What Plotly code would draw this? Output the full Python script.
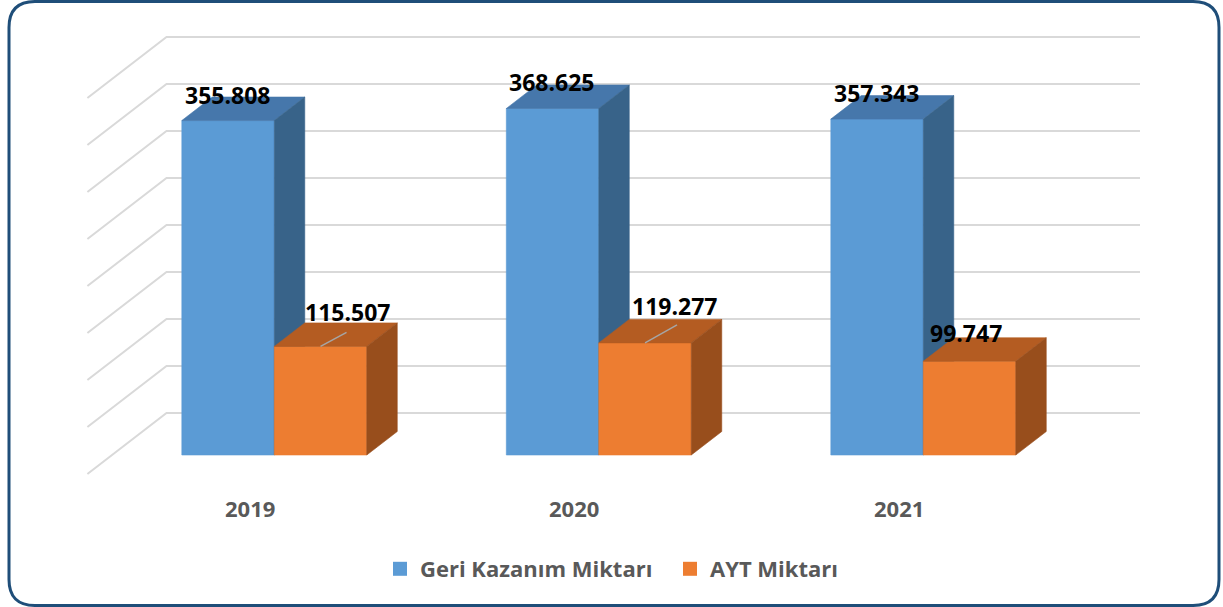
import plotly.graph_objects as go

# ---------------- data ----------------
categories = ["2019", "2020", "2021"]
series_names = ["Geri Kazanım Miktarı", "AYT Miktarı"]
geri_kazanim = [355.808, 368.625, 357.343]
ayt = [115.507, 119.277, 99.747]
value_labels_geri = ["355.808", "368.625", "357.343"]
value_labels_ayt = ["115.507", "119.277", "99.747"]
grid_values = [0, 50, 100, 150, 200, 250, 300, 350, 400]

# ---------------- styling / projection ----------------
FIG_W, FIG_H = 1223, 607
CAT_PX = 324.5      # pixels per category unit
VAL_PX = 0.94       # pixels per value unit
X0_PX = 274.3       # pixel x of category 0
Y0_PX = 455.0       # pixel y of value 0 (bar front plane)
SLANT = 1.297       # horizontal px per vertical px of depth
BAR_W = 0.285       # width of each bar (category units)
BAR_D = 23.5        # bar depth (vertical px)
WALL_BACK = 42.0    # back wall depth (vertical px)
WALL_FRONT = -19.0  # floor front edge depth
CAT_MIN, CAT_MAX = -0.5, 2.5

FONT = "Open Sans"
GRID_COL = "#D9D9D9"
TEXT_GRAY = "#595959"
colors = {
    0: dict(front="#5B9BD5", top="#4677AB", side="#386389"),
    1: dict(front="#ED7D31", top="#B45C22", side="#984E1C"),
}


def proj(x, v, z):
    return x + z * SLANT / CAT_PX, v + z / VAL_PX


fig = go.Figure()

# gridlines: back wall horizontals + left wall diagonals
gx, gy = [], []
for gv in grid_values:
    a = proj(CAT_MIN, gv, WALL_BACK)
    b = proj(CAT_MAX, gv, WALL_BACK)
    c = proj(CAT_MIN, gv, WALL_FRONT)
    gx += [c[0], a[0], b[0], None]
    gy += [c[1], a[1], b[1], None]
fig.add_trace(go.Scatter(x=gx, y=gy, mode="lines",
                         line=dict(color=GRID_COL, width=2),
                         hoverinfo="skip", showlegend=False))


def add_face(pts, color):
    xs = [p[0] for p in pts] + [pts[0][0]]
    ys = [p[1] for p in pts] + [pts[0][1]]
    fig.add_trace(go.Scatter(x=xs, y=ys, mode="lines", fill="toself",
                             fillcolor=color, line=dict(color=color, width=0.6),
                             hoverinfo="skip", showlegend=False))


for i, cat in enumerate(categories):
    for s, vals in enumerate([geri_kazanim, ayt]):
        v = vals[i]
        x0 = i - BAR_W if s == 0 else i
        x1 = i if s == 0 else i + BAR_W
        col = colors[s]
        add_face([proj(x0, 0, 0), proj(x1, 0, 0), proj(x1, v, 0), proj(x0, v, 0)], col["front"])
        add_face([proj(x0, v, 0), proj(x1, v, 0), proj(x1, v, BAR_D), proj(x0, v, BAR_D)], col["top"])
        add_face([proj(x1, 0, 0), proj(x1, 0, BAR_D), proj(x1, v, BAR_D), proj(x1, v, 0)], col["side"])

# leader lines for moved labels (2019, 2020 AYT)
leader_offsets = [(26, 14), (32, 18), None]
lx, ly = [], []
for i, off in enumerate(leader_offsets):
    if off is None:
        continue
    sx, sy = i + BAR_W / 2, ayt[i]
    lx += [sx, sx + off[0] / CAT_PX, None]
    ly += [sy, sy + off[1] / VAL_PX, None]
fig.add_trace(go.Scatter(x=lx, y=ly, mode="lines",
                         line=dict(color="#A6A6A6", width=1.5),
                         hoverinfo="skip", showlegend=False))

# legend entries
for s, name in enumerate(series_names):
    fig.add_trace(go.Scatter(x=[None], y=[None], mode="markers", name=name,
                             marker=dict(symbol="square", size=14,
                                         color=colors[s]["front"], line=dict(width=0))))

annotations = []
label_font = dict(family=FONT, size=23, color="#000000", weight="bold")
for i in range(len(categories)):
    annotations.append(dict(x=i - BAR_W, y=geri_kazanim[i], xref="x", yref="y",
                            text=value_labels_geri[i], showarrow=False,
                            xanchor="left", yanchor="middle", xshift=1, yshift=26,
                            font=label_font))
ayt_label_shift = [(29, 34), (31, 37), (5, 28)]
for i in range(len(categories)):
    annotations.append(dict(x=i, y=ayt[i], xref="x", yref="y",
                            text=value_labels_ayt[i], showarrow=False,
                            xanchor="left", yanchor="middle",
                            xshift=ayt_label_shift[i][0], yshift=ayt_label_shift[i][1],
                            font=label_font))
for i, cat in enumerate(categories):
    px_, pv_ = proj(i, 0, WALL_FRONT)
    annotations.append(dict(x=px_, y=pv_, xref="x", yref="y", text=cat,
                            showarrow=False, xanchor="center", yanchor="middle",
                            yshift=-34,
                            font=dict(family=FONT, size=22, color=TEXT_GRAY, weight="bold")))

# rounded border
L, R, T, B, r = 9, 1219, 1.5, 605.5, 26


def P(px, py):
    return f"{px / FIG_W:.5f},{1 - py / FIG_H:.5f}"


border = (f"M{P(L + r, T)} L{P(R - r, T)} Q{P(R, T)} {P(R, T + r)} "
          f"L{P(R, B - r)} Q{P(R, B)} {P(R - r, B)} L{P(L + r, B)} "
          f"Q{P(L, B)} {P(L, B - r)} L{P(L, T + r)} Q{P(L, T)} {P(L + r, T)} Z")

x_range = [(0 - X0_PX) / CAT_PX, (FIG_W - X0_PX) / CAT_PX]
y_range = [(Y0_PX - FIG_H) / VAL_PX, Y0_PX / VAL_PX]

fig.update_layout(
    width=FIG_W, height=FIG_H,
    margin=dict(l=0, r=0, t=0, b=0, autoexpand=False),
    paper_bgcolor="white", plot_bgcolor="rgba(0,0,0,0)",
    xaxis=dict(range=x_range, visible=False, fixedrange=True),
    yaxis=dict(range=y_range, visible=False, fixedrange=True),
    showlegend=True,
    legend=dict(orientation="h", x=380 / FIG_W, y=1 - 569 / FIG_H,
                xanchor="left", yanchor="middle",
                font=dict(family=FONT, size=22, color=TEXT_GRAY, weight="bold"),
                itemwidth=30, entrywidth=245, entrywidthmode="pixels",
                bgcolor="rgba(0,0,0,0)"),
    annotations=annotations,
    shapes=[dict(type="path", path=border, xref="paper", yref="paper",
                 line=dict(color="#1F4E79", width=3), fillcolor="rgba(0,0,0,0)")],
    hovermode=False,
)

fig.write_html("out.html",
               config={"displayModeBar": False, "staticPlot": True},
               post_script="document.body.style.margin='0';document.body.style.overflow='hidden';")
